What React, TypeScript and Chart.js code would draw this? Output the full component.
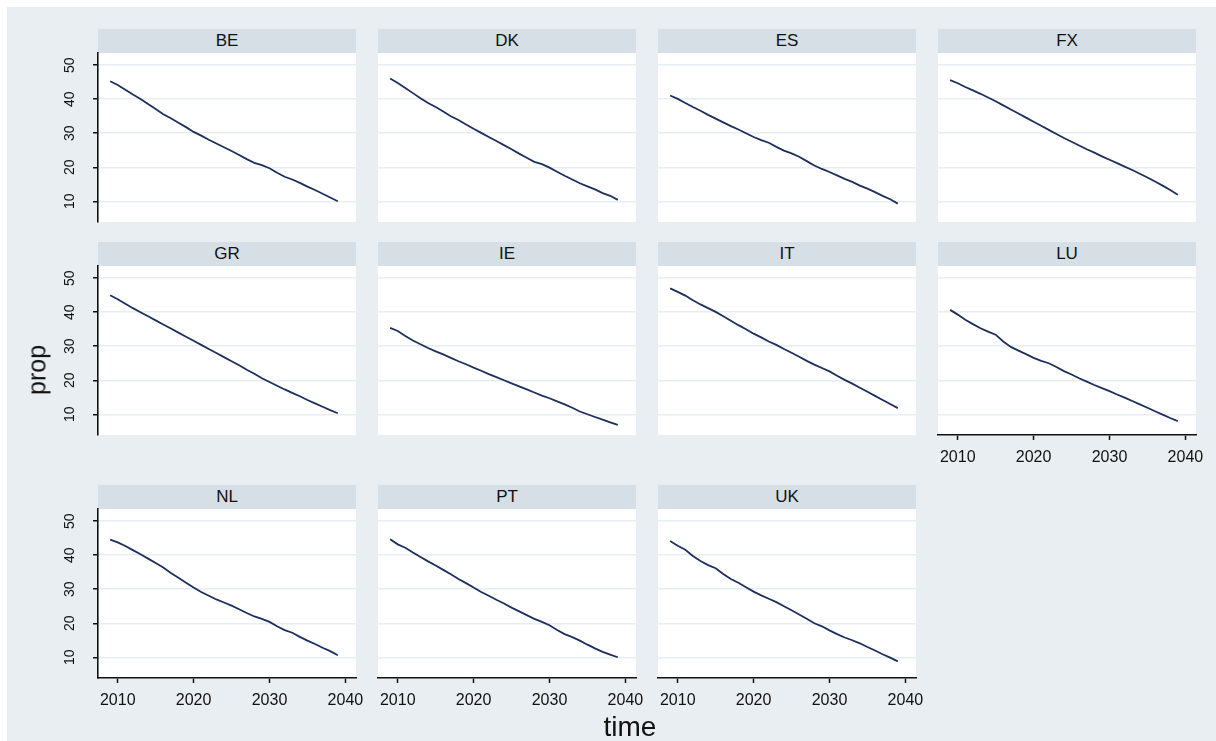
import { useEffect, useRef } from 'react';
import { Chart, registerables } from 'chart.js';

Chart.register(...registerables);

// ---------- data ----------
const YEARS = [2009, 2010, 2011, 2012, 2013, 2014, 2015, 2016, 2017, 2018, 2019, 2020, 2021, 2022, 2023, 2024, 2025, 2026, 2027, 2028, 2029, 2030, 2031, 2032, 2033, 2034, 2035, 2036, 2037, 2038, 2039];

const BE = [45.3, 44.2, 42.8, 41.4, 40.1, 38.6, 37.1, 35.6, 34.4, 33.1, 31.8, 30.4, 29.3, 28.1, 27.0, 25.9, 24.8, 23.6, 22.4, 21.3, 20.6, 19.7, 18.4, 17.2, 16.4, 15.4, 14.3, 13.3, 12.2, 11.1, 10.0];
const DK = [46.1, 44.8, 43.3, 41.8, 40.3, 38.9, 37.7, 36.4, 35.0, 33.9, 32.6, 31.3, 30.1, 28.9, 27.7, 26.5, 25.3, 24.0, 22.8, 21.6, 20.9, 19.9, 18.7, 17.5, 16.4, 15.3, 14.4, 13.5, 12.4, 11.6, 10.4];
const ES = [41.1, 40.1, 38.9, 37.7, 36.6, 35.4, 34.3, 33.2, 32.1, 31.1, 30.0, 28.9, 28.0, 27.2, 26.0, 24.9, 24.1, 23.1, 21.8, 20.5, 19.5, 18.6, 17.6, 16.6, 15.7, 14.6, 13.7, 12.7, 11.6, 10.6, 9.3];
const FX = [45.6, 44.7, 43.6, 42.6, 41.6, 40.5, 39.4, 38.2, 37.0, 35.8, 34.6, 33.4, 32.2, 31.0, 29.8, 28.6, 27.5, 26.4, 25.3, 24.3, 23.2, 22.2, 21.2, 20.2, 19.2, 18.1, 17.0, 15.8, 14.6, 13.3, 11.9];
const GR = [45.0, 43.8, 42.5, 41.2, 40.0, 38.8, 37.6, 36.4, 35.2, 34.0, 32.8, 31.6, 30.4, 29.2, 28.0, 26.8, 25.6, 24.4, 23.1, 21.9, 20.6, 19.5, 18.4, 17.3, 16.3, 15.3, 14.2, 13.2, 12.2, 11.2, 10.3];
const IE = [35.4, 34.5, 33.0, 31.7, 30.6, 29.5, 28.5, 27.6, 26.6, 25.6, 24.7, 23.7, 22.8, 21.8, 20.9, 20.0, 19.1, 18.2, 17.3, 16.4, 15.5, 14.7, 13.8, 12.9, 11.9, 10.8, 10.0, 9.2, 8.4, 7.6, 6.9];
const IT = [47.0, 46.0, 44.9, 43.5, 42.3, 41.2, 40.1, 38.8, 37.5, 36.2, 35.0, 33.7, 32.6, 31.4, 30.4, 29.2, 28.1, 26.9, 25.7, 24.6, 23.6, 22.6, 21.3, 20.1, 19.0, 17.8, 16.6, 15.4, 14.2, 13.0, 11.8];
const LU = [40.7, 39.3, 37.8, 36.5, 35.3, 34.3, 33.4, 31.4, 29.8, 28.7, 27.7, 26.6, 25.7, 25.0, 23.9, 22.7, 21.7, 20.6, 19.6, 18.6, 17.7, 16.8, 15.8, 14.9, 13.9, 12.9, 11.9, 10.9, 9.9, 8.9, 8.0];
const NL = [44.6, 43.8, 42.7, 41.5, 40.3, 39.0, 37.7, 36.4, 34.8, 33.4, 31.9, 30.5, 29.2, 28.1, 27.0, 26.1, 25.2, 24.1, 23.0, 22.0, 21.3, 20.4, 19.1, 18.0, 17.2, 16.0, 14.9, 13.9, 12.8, 11.8, 10.6];
const PT = [44.7, 43.2, 42.2, 40.8, 39.5, 38.2, 37.0, 35.7, 34.4, 33.0, 31.8, 30.5, 29.2, 28.1, 26.9, 25.8, 24.6, 23.5, 22.4, 21.3, 20.4, 19.4, 18.0, 16.8, 15.9, 14.9, 13.7, 12.6, 11.6, 10.8, 10.0];
const UK = [44.2, 42.8, 41.6, 39.8, 38.3, 37.1, 36.2, 34.5, 33.0, 31.9, 30.6, 29.3, 28.2, 27.2, 26.2, 25.0, 23.8, 22.6, 21.3, 20.0, 19.1, 17.9, 16.8, 15.8, 15.0, 14.1, 13.0, 12.0, 10.9, 9.9, 8.8];

const COUNTRIES = ['BE', 'DK', 'ES', 'FX', 'GR', 'IE', 'IT', 'LU', 'NL', 'PT', 'UK'];
const SERIES = [BE, DK, ES, FX, GR, IE, IT, LU, NL, PT, UK];

const Y_TICKS = [10, 20, 30, 40, 50];
const X_TICKS = [2010, 2020, 2030, 2040];
const Y_TITLE = 'prop';
const X_TITLE = 'time';

// ---------- style / layout ----------
const FONT = '"Liberation Sans", Arial, sans-serif';
const BG = '#e8eef1';
const STRIP = '#d6dfe6';
const GRID = '#e6eef1';
const LINE = '#1c2f5e';

const COL_LEFT = [98, 378, 658, 938];
const ROW_TOP = [53, 266, 509];
const PW = 258;
const PH = 169;
const HEADER_H = 24;
const YW = 40;
const XH = 32;
const PAD = 24;
const X_MIN = 2007.4;
const X_MAX = 2041.4;
const Y_MIN = 3.9;
const Y_MAX = 53.6;

function Panel({ name, values, left, top, showX, showY }: { name: string; values: number[]; left: number; top: number; showX: boolean; showY: boolean }) {
  const ref = useRef<HTMLCanvasElement | null>(null);
  const cl = left - (showY ? YW : 0) - PAD;
  const ct = top - PAD;
  const cw = PW + (showY ? YW : 0) + 2 * PAD;
  const ch = PH + (showX ? XH : 0) + 2 * PAD;

  useEffect(() => {
    if (!ref.current) return;
    const yLabels = {
      id: 'yLabels',
      afterDraw(chart: any) {
        if (!showY) return;
        const s = chart.scales.y;
        const ctx = chart.ctx;
        ctx.save();
        ctx.font = `14px ${FONT}`;
        ctx.fillStyle = '#111';
        ctx.textAlign = 'center';
        ctx.textBaseline = 'middle';
        Y_TICKS.forEach((v) => {
          const y = s.getPixelForValue(v);
          ctx.save();
          ctx.translate(s.right - 28, y);
          ctx.rotate(-Math.PI / 2);
          ctx.fillText(String(v), 0, 0);
          ctx.restore();
        });
        ctx.restore();
      },
    };
    const chart = new Chart(ref.current, {
      type: 'line',
      data: {
        datasets: [
          {
            label: name,
            data: YEARS.map((x, i) => ({ x, y: values[i] })),
            borderColor: LINE,
            borderWidth: 1.8,
            pointRadius: 0,
            fill: false,
            tension: 0,
          },
        ],
      },
      options: {
        animation: false,
        responsive: false,
        maintainAspectRatio: false,
        events: [],
        layout: { padding: PAD },
        plugins: { legend: { display: false }, tooltip: { enabled: false } },
        scales: {
          x: {
            type: 'linear',
            min: X_MIN,
            max: X_MAX,
            display: showX,
            afterBuildTicks: (a: any) => {
              a.ticks = X_TICKS.map((v) => ({ value: v }));
            },
            afterFit: (a: any) => {
              a.height = showX ? XH : 0;
              a.paddingLeft = 0;
              a.paddingRight = 0;
            },
            grid: { drawOnChartArea: false, drawTicks: true, tickLength: 5, tickColor: '#111', tickWidth: 1.5 },
            border: { display: true, color: '#111', width: 1.6 },
            ticks: {
              color: '#111',
              font: { family: FONT, size: 16 },
              padding: 8,
              maxRotation: 0,
              minRotation: 0,
              autoSkip: false,
              callback: (v: any) => String(v),
            },
          },
          y: {
            type: 'linear',
            min: Y_MIN,
            max: Y_MAX,
            afterBuildTicks: (a: any) => {
              a.ticks = Y_TICKS.map((v) => ({ value: v }));
            },
            afterFit: (a: any) => {
              a.width = showY ? YW : 0;
              a.paddingTop = 0;
              a.paddingBottom = 0;
            },
            grid: { color: GRID, lineWidth: 1.5, drawTicks: showY, tickLength: 5, tickColor: '#111', tickWidth: 1.5 },
            border: { display: showY, color: '#111', width: 1.6 },
            ticks: { display: false },
          },
        },
      },
      plugins: [yLabels],
    } as any);
    return () => chart.destroy();
  }, [name, values, showX, showY]);

  return (
    <>
      <div
        style={{
          position: 'absolute',
          left,
          top: top - HEADER_H,
          width: PW,
          height: HEADER_H,
          background: STRIP,
          color: '#111',
          font: `17px ${FONT}`,
          lineHeight: `${HEADER_H}px`,
          textAlign: 'center',
        }}
      >
        {name}
      </div>
      <div style={{ position: 'absolute', left, top, width: PW, height: PH, background: '#fff' }} />
      <canvas
        ref={ref}
        width={cw}
        height={ch}
        style={{ position: 'absolute', left: cl, top: ct, width: cw, height: ch }}
      />
    </>
  );
}

export default function App() {
  return (
    <div style={{ position: 'absolute', left: 0, top: 0, width: 1216, height: 741, background: '#fff', overflow: 'hidden' }}>
      <div style={{ position: 'absolute', left: 7, top: 7, width: 1209, height: 734, background: BG }} />
      {COUNTRIES.map((c, i) => {
        const row = Math.floor(i / 4);
        const col = i % 4;
        return (
          <Panel
            key={c}
            name={c}
            values={SERIES[i]}
            left={COL_LEFT[col]}
            top={ROW_TOP[row]}
            showY={col === 0}
            showX={i + 4 >= COUNTRIES.length}
          />
        );
      })}
      <div
        style={{
          position: 'absolute',
          left: 37,
          top: 370,
          transform: 'translate(-50%, -50%) rotate(-90deg)',
          font: `25px ${FONT}`,
          color: '#111',
          whiteSpace: 'nowrap',
        }}
      >
        {Y_TITLE}
      </div>
      <div
        style={{
          position: 'absolute',
          left: 630,
          top: 727,
          transform: 'translate(-50%, -50%)',
          font: `28px ${FONT}`,
          color: '#111',
          whiteSpace: 'nowrap',
        }}
      >
        {X_TITLE}
      </div>
    </div>
  );
}
